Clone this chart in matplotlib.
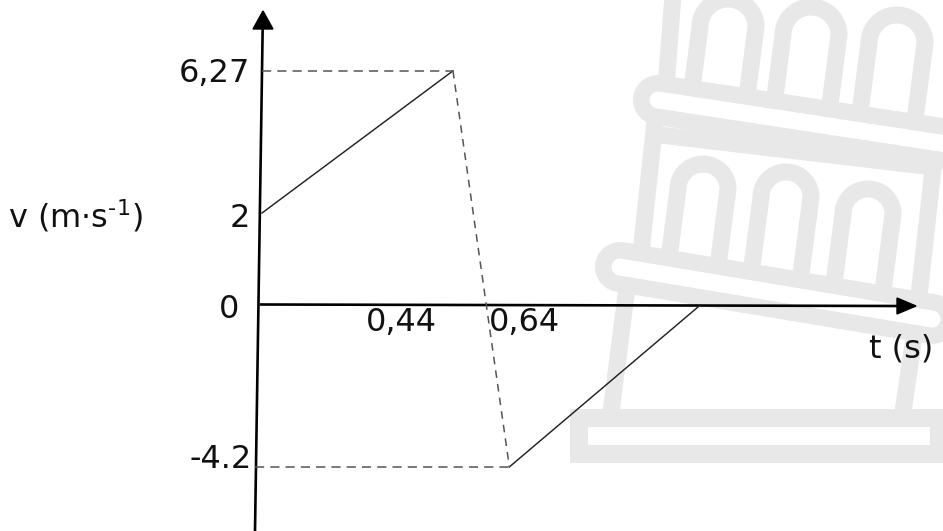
import numpy as np
import matplotlib
matplotlib.use("Agg")
import matplotlib.pyplot as plt
from matplotlib.patches import Polygon, Rectangle

# schematic v-t diagram, node positions as drawn (the sketch is not to scale)
t_nodes = [0.0, 0.44, 0.57, 1.01]
v_nodes = [2.0, 5.09, -3.52, 0.0]

v_tick_labels = ["6,27", "2", "0", "-4.2"]
t_tick_labels = ["0,44", "0,64"]
y_label = r"v (m·s$^{\text{-}1}$)"
x_label = "t (s)"

W, H = 943, 531
ox, oy = 262, 305      # origin in pixels
kx, ky = 434, 46       # pixels per unit

fig = plt.figure(figsize=(W / 100, H / 100), dpi=100)
bg = fig.add_axes([0, 0, 1, 1])
bg.set_xlim(0, W)
bg.set_ylim(H, 0)
bg.axis("off")

ax = fig.add_axes([0, 0, 1, 1], zorder=2)
ax.patch.set_visible(False)
ax.axis("off")
ax.set_xlim(-ox / kx, (W - ox) / kx)
ax.set_ylim((oy - H) / ky, oy / ky)

# ---- watermark (leaning tower icon) ----
G = "#e8e8e8"
S = 17 * 0.72  # stroke in points


def wline(xs, ys, lw=S, color=G, z=1):
    bg.plot(xs, ys, color=color, lw=lw, solid_capstyle="round",
            solid_joinstyle="round", zorder=z)


def arch(cx, cy, r, ybot, tilt=0.13):
    th = np.linspace(np.pi, 0, 40)
    xs = cx + r * np.cos(th)
    ys = cy - r * np.sin(th)
    xl = [cx - r - tilt * (ybot[0] - cy)]
    xr = [cx + r - tilt * (ybot[1] - cy)]
    wline(xl + list(xs) + xr, [ybot[0]] + list(ys) + [ybot[1]])


bg.add_patch(Rectangle((578.5, 417.5), 360, 36, fill=False, edgecolor=G,
                       lw=18 * 0.72, zorder=1))
# lower storey walls
wline([611, 628], [412, 280])
wline([903, 918], [412, 310])
# middle storey walls and top line
wline([640, 656], [262, 112])
wline([918, 934], [305, 160])
wline([660, 933], [135, 167])
# middle arches
arch(703, 189, 25, (285, 285))
arch(786, 197, 25, (298, 298))
arch(868, 214, 25, (312, 312))
# upper storey wall and arches
wline([665, 673], [100, -5])
arch(728, 27, 28, (106, 106))
arch(811, 35, 28, (118, 118))
arch(897, 43, 28, (130, 130))
# cornice bands
for (x0, y0, x1, y1) in [(620, 267, 932, 319), (658, 100, 960, 146)]:
    wline([x0, x1], [y0, y1], lw=50 * 0.72, z=2)
    wline([x0, x1], [y0, y1], lw=17 * 0.72, color="white", z=3)

# ---- axes with arrows ----
K = "black"
bg.plot([255, 262.7], [531, 26], color=K, lw=1.9, zorder=5)
bg.add_patch(Polygon([[263, 11], [253, 29], [273, 29]], closed=True,
                     color=K, zorder=5))
bg.plot([261, 900], [304.5, 306], color=K, lw=1.9, zorder=5)
bg.add_patch(Polygon([[916, 306], [897, 298], [897, 314]], closed=True,
                     color=K, zorder=5))

# ---- data lines ----
lc = "#222222"
dc = "#555555"
ax.plot(t_nodes[:2], v_nodes[:2], color=lc, lw=1.05)
ax.plot(t_nodes[2:], v_nodes[2:], color=lc, lw=1.05)
ax.plot([0, t_nodes[1]], [v_nodes[1], v_nodes[1]], color=dc, lw=1.1,
        ls=(0, (6, 4)))
ax.plot(t_nodes[1:3], v_nodes[1:3], color=dc, lw=1.1, ls=(0, (5, 4)))
ax.plot([-0.015, t_nodes[2]], [v_nodes[2], v_nodes[2]], color=dc, lw=1.1,
        ls=(0, (6, 4)))

# ---- labels ----
fs = 23
tc = "#111111"
v_label_pos = [(250, 82, "right"), (250, 227, "right"),
               (229, 318, "center"), (252, 468, "right")]
for s, (x, y, ha) in zip(v_tick_labels, v_label_pos):
    bg.text(x, y, s, ha=ha, va="baseline", fontsize=fs, color=tc, zorder=6)
t_label_pos = [(401, 331), (524, 331)]
for s, (x, y) in zip(t_tick_labels, t_label_pos):
    bg.text(x, y, s, ha="center", va="baseline", fontsize=fs, color=tc,
            zorder=6)
bg.text(8, 227, y_label, ha="left", va="baseline", fontsize=fs, color=tc,
        zorder=6)
bg.text(869, 357, x_label, ha="left", va="baseline", fontsize=fs, color=tc,
        zorder=6)

fig.savefig("out.png", dpi=100)
